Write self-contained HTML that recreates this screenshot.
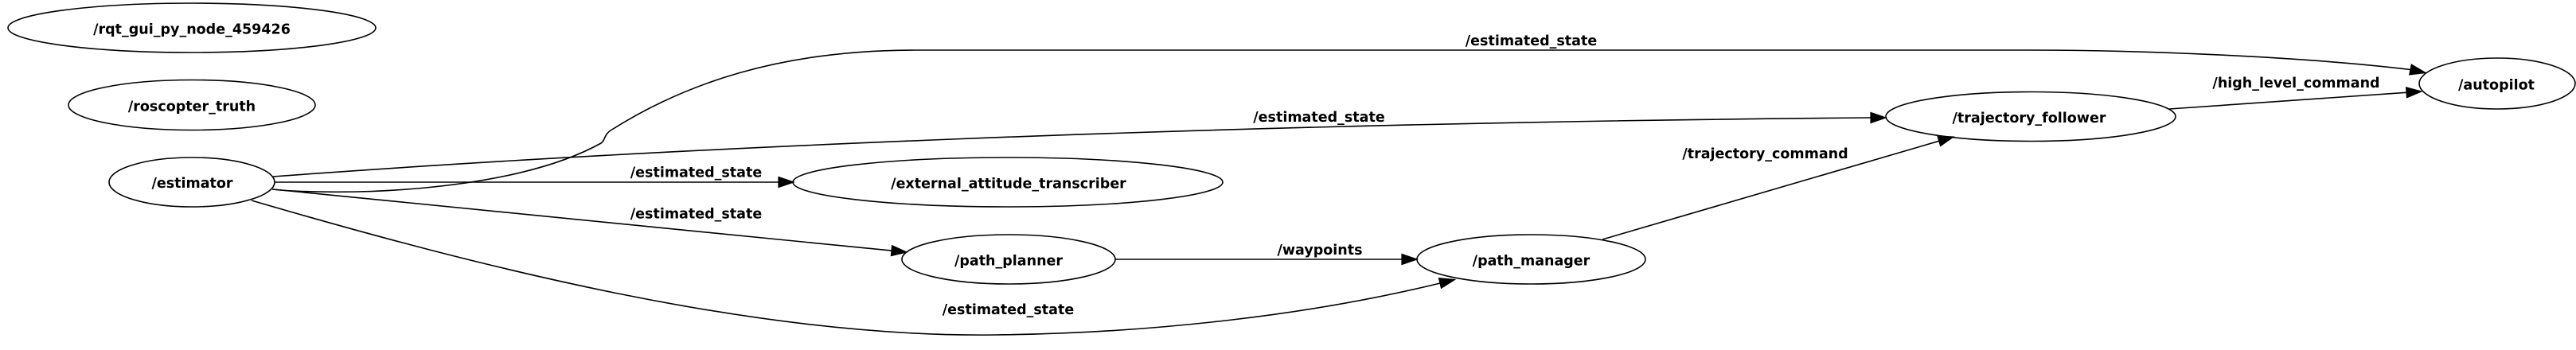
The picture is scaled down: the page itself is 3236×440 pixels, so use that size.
<!DOCTYPE html>
<html>
<head>
<meta charset="utf-8">
<style>
html,body{margin:0;padding:0;background:#fff;}
svg{display:block;}
text{font-family:"DejaVu Sans","Liberation Sans",sans-serif;font-weight:bold;font-size:17.5px;fill:#000;text-anchor:middle;}
.e{fill:none;stroke:#000;stroke-width:1.6;}
.a{fill:#000;stroke:#000;stroke-width:1.2;stroke-linejoin:miter;}
</style>
</head>
<body>
<svg width="3236" height="440" viewBox="0 0 3236 440" xmlns="http://www.w3.org/2000/svg">
<rect width="3236" height="440" fill="#fff"/>

<!-- nodes -->
<ellipse class="e" cx="241" cy="35" rx="231" ry="31"/>
<text x="241" y="42.5">/rqt_gui_py_node_459426</text>

<ellipse class="e" cx="241" cy="132" rx="155" ry="31.5"/>
<text x="241" y="139.5">/roscopter_truth</text>

<ellipse class="e" cx="241" cy="229" rx="104" ry="31"/>
<text x="241.5" y="236">/estimator</text>

<ellipse class="e" cx="1266" cy="229" rx="270" ry="31"/>
<text x="1267" y="236.3">/external_attitude_transcriber</text>

<ellipse class="e" cx="1267" cy="326" rx="134" ry="31"/>
<text x="1267" y="333.3">/path_planner</text>

<ellipse class="e" cx="1923.5" cy="326" rx="143.5" ry="31"/>
<text x="1923.5" y="333.3">/path_manager</text>

<ellipse class="e" cx="2551" cy="146.5" rx="182" ry="31"/>
<text x="2549" y="154">/trajectory_follower</text>

<ellipse class="e" cx="3137" cy="105" rx="98" ry="32"/>
<text x="3136" y="112.5">/autopilot</text>

<!-- edges -->
<!-- estimator -> autopilot (top curve) -->
<path class="e" d="M342,238 C420,246 640,244 755,180 C760,177 759,169 767,164 C860,105 980,63 1150,63 L2550,63 C2700,63 2900,72 3028,87.5"/>
<polygon class="a" points="3047,91.5 3026.7,93.9 3029.3,81.1"/>
<text x="1923.5" y="57">/estimated_state</text>

<!-- estimator -> trajectory_follower -->
<path class="e" d="M343,222 C800,188 1500,155 2350,148"/>
<polygon class="a" points="2369,148 2350,141.5 2350,154.5"/>
<text x="1657" y="153">/estimated_state</text>

<!-- estimator -> external_attitude_transcriber -->
<path class="e" d="M345,229 L978,229"/>
<polygon class="a" points="997,229 978,222.5 978,235.5"/>
<text x="874.5" y="222.7">/estimated_state</text>

<!-- estimator -> path_planner -->
<path class="e" d="M343,238 L1120,315.1"/>
<polygon class="a" points="1139,317 1120.6,308.6 1119.4,321.6"/>
<text x="874.5" y="274.5">/estimated_state</text>

<!-- estimator -> path_manager (bottom curve) -->
<path class="e" d="M316,252 C600,335 950,425 1250,421 C1450,419 1650,395 1809,356"/>
<polygon class="a" points="1827.5,351.5 1810.5,362.3 1807.5,349.7"/>
<text x="1266.5" y="395">/estimated_state</text>

<!-- path_planner -> path_manager -->
<path class="e" d="M1401,326 L1761,326"/>
<polygon class="a" points="1780,326 1761,319.5 1761,332.5"/>
<text x="1658" y="320">/waypoints</text>

<!-- path_manager -> trajectory_follower -->
<path class="e" d="M2013,301 L2435.8,177.3"/>
<polygon class="a" points="2454,172 2437.6,183.5 2434,171.1"/>
<text x="2217.5" y="199">/trajectory_command</text>

<!-- trajectory_follower -> autopilot -->
<path class="e" d="M2725,137 L3023,116.3"/>
<polygon class="a" points="3042,115 3023.5,122.8 3022.6,109.8"/>
<text x="2884.5" y="110">/high_level_command</text>
</svg>
</body>
</html>
